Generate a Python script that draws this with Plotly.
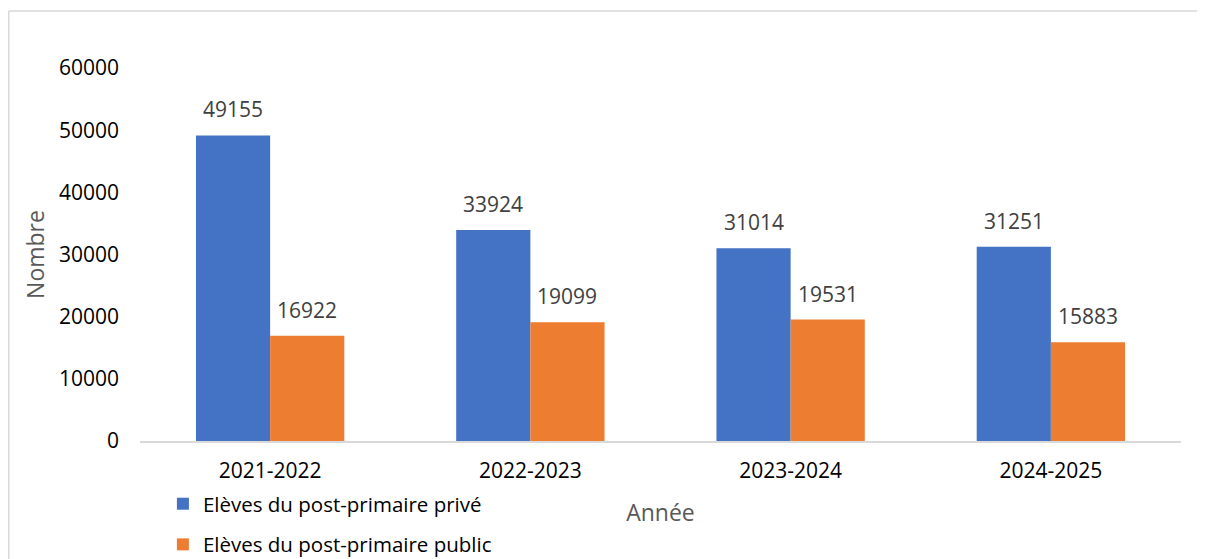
import plotly.graph_objects as go

categories = ["2021-2022", "2022-2023", "2023-2024", "2024-2025"]
prive = [49155, 33924, 31014, 31251]
public = [16922, 19099, 19531, 15883]
series_names = ["Elèves du post-primaire privé", "Elèves du post-primaire public"]
colors = ["#4472C4", "#ED7D31"]
y_ticks = [0, 10000, 20000, 30000, 40000, 50000, 60000]

FONT = "Open Sans"

fig = go.Figure()
for i, (name, vals) in enumerate(zip(series_names, [prive, public])):
    fig.add_trace(go.Bar(
        x=categories, y=vals, name=name,
        marker=dict(color=colors[i], line=dict(width=0)),
        legendgroup=f"g{i}",
    ))

annotations = []
for i, vals in enumerate([prive, public]):
    shift = -37 if i == 0 else 37
    for c, v in zip(categories, vals):
        annotations.append(dict(
            x=c, y=v, xref="x", yref="y", text=str(v), showarrow=False,
            xshift=shift, yshift=26, font=dict(family=FONT, size=21, color="#404040"),
        ))

fig.update_layout(
    width=1197, height=551,
    margin=dict(l=132, r=24, t=60, b=118, autoexpand=False),
    paper_bgcolor="white", plot_bgcolor="white",
    barmode="group", bargap=0.43, bargroupgap=0,
    font=dict(family=FONT, color="black"),
    showlegend=True,
    legend=dict(
        orientation="v", x=0.022, y=-0.115, xanchor="left", yanchor="top",
        font=dict(family=FONT, size=20.5, color="black"),
        tracegroupgap=11, bgcolor="rgba(0,0,0,0)",
    ),
    annotations=annotations,
    xaxis=dict(
        showline=True, linecolor="#D9D9D9", linewidth=1.5,
        ticks="", showgrid=False,
        tickfont=dict(family=FONT, size=21, color="black"),
        ticklabelstandoff=10,
        title=dict(text="Année", font=dict(family=FONT, size=23, color="#595959"), standoff=22),
    ),
    yaxis=dict(
        range=[0, 60000], tickvals=y_ticks, ticktext=[str(t) for t in y_ticks],
        showgrid=False, showline=False, zeroline=False, ticks="",
        tickfont=dict(family=FONT, size=21, color="black"),
        ticklabelstandoff=20,
        title=dict(text="Nombre", font=dict(family=FONT, size=23, color="#595959"), standoff=7),
    ),
    shapes=[
        dict(type="line", xref="paper", yref="paper", x0=-0.1261, x1=1.05, y0=1.1528, y1=1.1528,
             line=dict(color="#D9D9D9", width=1.5)),
        dict(type="line", xref="paper", yref="paper", x0=-0.1261, x1=-0.1261, y0=-0.33, y1=1.1528,
             line=dict(color="#D9D9D9", width=1.5)),
    ],
)

fig.write_html("out.html")
